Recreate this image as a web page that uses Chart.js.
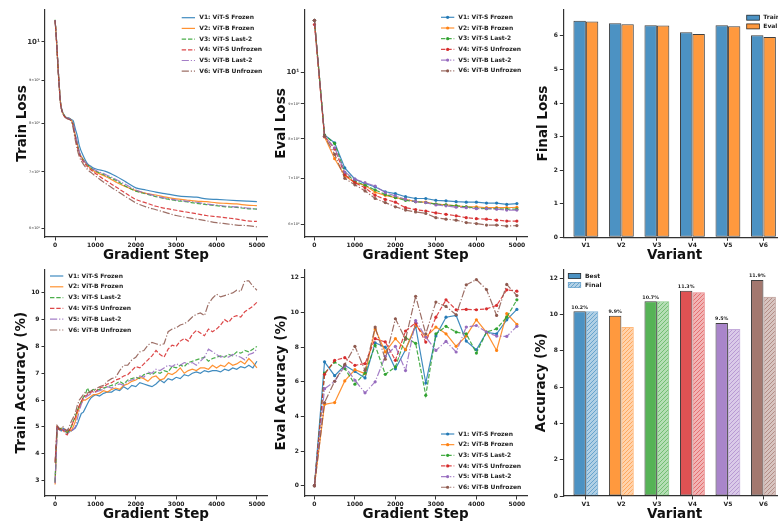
<!DOCTYPE html>
<html><head><meta charset="utf-8">
<script src="https://cdn.jsdelivr.net/npm/chart.js@4/dist/chart.umd.min.js"></script>
<style>
html,body{margin:0;padding:0;background:#fff;width:778px;height:524px;overflow:hidden;position:relative}
canvas{position:absolute}
</style></head><body>
<canvas id="c1" width="272" height="264" style="left:0;top:0"></canvas>
<canvas id="c2" width="270" height="264" style="left:262px;top:0"></canvas>
<canvas id="c3" width="270" height="264" style="left:522px;top:0"></canvas>
<canvas id="c4" width="272" height="264" style="left:0;top:260px"></canvas>
<canvas id="c5" width="270" height="264" style="left:262px;top:260px"></canvas>
<canvas id="c6" width="270" height="264" style="left:522px;top:260px"></canvas>
<script>
// ---------------- DATA ----------------
const variants = ['V1','V2','V3','V4','V5','V6'];
const seriesNames = ['V1: ViT-S Frozen','V2: ViT-B Frozen','V3: ViT-S Last-2','V4: ViT-S Unfrozen','V5: ViT-B Last-2','V6: ViT-B Unfrozen'];
const stepTicks = [0,1000,2000,3000,4000,5000];
const logTicks = [6,7,8,9,10];
const lossBarTicks = [0,1,2,3,4,5,6];
const trainAccTicks = [3,4,5,6,7,8,9,10];
const accTicks = [0,2,4,6,8,10,12];

// Train loss (log scale)
const trainLossSteps = [0,25,50,75,100,125,150,200,250,300,350,400,450,500,550,600,700,800,900,1000,1250,1500,1750,2000,2250,2500,2750,3000,3250,3500,3750,4000,4250,4500,4750,5000];
const trainLossV1 = [10.61,10.23,9.77,9.30,8.92,8.56,8.37,8.22,8.15,8.12,8.11,8.08,8.05,7.88,7.73,7.52,7.31,7.16,7.10,7.06,7.01,6.92,6.81,6.70,6.66,6.62,6.59,6.56,6.54,6.53,6.50,6.49,6.48,6.47,6.46,6.45];
const trainLossV2 = [10.60,10.20,9.74,9.28,8.90,8.55,8.36,8.21,8.14,8.11,8.10,8.06,7.97,7.73,7.56,7.38,7.24,7.13,7.05,7.00,6.91,6.81,6.72,6.65,6.60,6.57,6.53,6.50,6.48,6.46,6.45,6.43,6.42,6.41,6.39,6.38];
const trainLossV3 = [10.62,10.22,9.76,9.29,8.91,8.55,8.36,8.21,8.14,8.11,8.10,8.06,7.96,7.73,7.56,7.38,7.23,7.14,7.07,7.02,6.93,6.84,6.73,6.64,6.59,6.54,6.50,6.47,6.45,6.42,6.40,6.38,6.36,6.35,6.33,6.32];
const trainLossV4 = [10.61,10.21,9.75,9.29,8.90,8.54,8.35,8.20,8.13,8.10,8.09,8.05,7.95,7.70,7.51,7.35,7.20,7.10,7.03,6.97,6.84,6.72,6.60,6.49,6.43,6.37,6.33,6.30,6.27,6.24,6.21,6.19,6.17,6.15,6.12,6.11];
const trainLossV5 = [10.61,10.22,9.76,9.30,8.91,8.55,8.36,8.21,8.14,8.11,8.10,8.06,7.97,7.78,7.58,7.40,7.23,7.15,7.08,7.03,6.95,6.86,6.76,6.66,6.60,6.55,6.51,6.48,6.46,6.44,6.41,6.39,6.37,6.36,6.34,6.32];
const trainLossV6 = [10.60,10.20,9.73,9.27,8.89,8.54,8.35,8.20,8.13,8.10,8.08,8.04,7.88,7.64,7.44,7.30,7.15,7.05,6.98,6.92,6.78,6.66,6.54,6.43,6.36,6.31,6.26,6.21,6.18,6.15,6.12,6.09,6.07,6.05,6.04,6.02];

// Eval loss (log scale), every 250 steps
const evalSteps = [0,250,500,750,1000,1250,1500,1750,2000,2250,2500,2750,3000,3250,3500,3750,4000,4250,4500,4750,5000];
const evalLossV1 = [11.93,8.10,7.89,7.25,6.98,6.88,6.80,6.69,6.65,6.58,6.54,6.54,6.50,6.49,6.47,6.46,6.46,6.44,6.44,6.41,6.43];
const evalLossV2 = [11.93,8.05,7.48,7.06,6.90,6.84,6.68,6.61,6.56,6.52,6.47,6.46,6.42,6.40,6.38,6.36,6.36,6.34,6.34,6.34,6.35];
const evalLossV3 = [11.93,8.10,7.87,7.14,6.93,6.84,6.73,6.63,6.56,6.50,6.47,6.45,6.42,6.40,6.38,6.36,6.33,6.32,6.32,6.31,6.31];
const evalLossV4 = [11.76,8.07,7.73,7.09,6.90,6.78,6.61,6.52,6.46,6.34,6.30,6.27,6.23,6.20,6.17,6.13,6.11,6.10,6.08,6.06,6.06];
const evalLossV5 = [11.93,8.07,7.76,7.15,6.98,6.90,6.82,6.67,6.60,6.52,6.47,6.45,6.40,6.38,6.35,6.34,6.32,6.32,6.31,6.29,6.29];
const evalLossV6 = [11.93,8.07,7.59,7.00,6.85,6.71,6.54,6.45,6.36,6.29,6.25,6.22,6.13,6.10,6.08,6.03,6.01,5.98,5.98,5.96,5.97];

// Train accuracy (%)
const trainAccSteps = [0,25,50,100,150,200,250,300,350,400,450,500,550,600,650,700,750,800,850,900,950,1000,
  1100,1200,1300,1400,1500,1600,1700,1800,1900,2000,2100,2200,2300,2400,2500,2600,2700,2800,2900,3000,
  3100,3200,3300,3400,3500,3600,3700,3800,3900,4000,4100,4200,4300,4400,4500,4600,4700,4800,4900,5000];
const trainAccV1 = [2.9,4.0,5.0,4.95,4.85,4.95,4.9,4.75,4.85,4.85,4.9,4.95,5.1,5.3,5.5,5.55,5.7,5.85,6.0,6.1,6.15,6.2,
  6.15,6.25,6.3,6.3,6.4,6.35,6.5,6.4,6.55,6.5,6.65,6.6,6.55,6.5,6.6,6.75,6.65,6.8,6.75,6.85,
  6.8,6.95,6.9,7.0,7.05,7.0,7.1,7.05,7.1,7.1,7.05,7.15,7.1,7.2,7.15,7.25,7.2,7.3,7.2,7.45];
const trainAccV2 = [2.85,3.9,5.0,4.9,4.95,4.85,4.9,4.8,4.9,4.85,5.0,5.2,5.5,5.7,5.9,6.0,6.0,6.05,6.1,6.15,6.2,6.2,
  6.25,6.35,6.3,6.4,6.45,6.4,6.55,6.6,6.7,6.75,6.85,6.8,6.7,6.85,6.9,6.75,6.8,7.0,6.95,7.05,
  7.2,7.0,7.1,7.15,7.1,7.2,7.2,7.15,7.3,7.2,7.3,7.25,7.4,7.3,7.35,7.45,7.35,7.55,7.4,7.2];
const trainAccV3 = [2.95,4.0,5.0,4.9,4.95,4.9,4.85,4.75,4.9,5.0,5.2,5.4,5.6,5.8,5.95,6.1,6.2,6.45,6.3,6.35,6.4,6.35,
  6.4,6.45,6.5,6.55,6.6,6.7,6.6,6.75,6.8,6.85,6.8,6.95,7.0,6.95,7.05,7.0,7.1,7.05,7.25,7.2,
  7.3,7.25,7.4,7.45,7.5,7.55,7.6,7.45,7.55,7.6,7.65,7.6,7.7,7.65,7.8,7.75,7.85,7.8,7.9,8.0];
const trainAccV4 = [3.7,4.3,5.05,4.9,4.85,4.9,4.75,4.7,4.85,5.0,5.2,5.35,5.6,5.8,5.95,6.1,6.15,6.2,6.25,6.3,6.35,6.3,
  6.45,6.5,6.6,6.65,6.75,6.8,6.9,6.95,7.1,7.25,7.2,7.35,7.5,7.65,7.85,7.7,7.6,7.9,8.05,8.0,
  8.2,8.3,8.2,8.45,8.6,8.5,8.4,8.65,8.55,8.65,8.8,9.0,8.9,9.1,9.15,9.1,9.3,9.4,9.5,9.65];
const trainAccV5 = [2.9,3.8,4.95,4.9,4.85,4.9,4.85,4.9,4.8,4.85,4.9,5.0,5.3,5.6,5.85,6.0,6.1,6.15,6.2,6.25,6.3,6.3,
  6.35,6.4,6.5,6.45,6.55,6.6,6.55,6.7,6.75,6.8,6.9,6.85,7.05,7.0,7.15,7.1,7.2,7.3,7.25,7.35,
  7.3,7.4,7.35,7.4,7.3,7.45,7.6,7.9,7.8,7.7,7.6,7.65,7.6,7.7,7.65,7.6,7.5,7.7,7.75,7.9];
const trainAccV6 = [3.65,4.4,5.05,4.95,4.9,5.0,4.9,4.85,5.0,5.2,5.35,5.5,5.8,6.0,6.1,6.2,6.3,6.25,6.3,6.35,6.4,6.4,
  6.5,6.55,6.7,6.8,6.85,7.1,7.3,7.3,7.5,7.6,7.8,7.85,8.05,8.15,8.1,8.05,8.1,8.55,8.65,8.7,
  8.8,8.85,8.95,9.1,9.2,9.25,9.15,9.6,9.8,9.95,9.85,9.9,9.95,10.0,10.1,10.05,10.45,10.45,10.25,10.1];

// Eval accuracy (%), every 250 steps
const evalAccV1 = [0,7.15,6.35,6.95,6.6,6.22,8.25,8.0,6.75,7.85,9.2,5.93,8.65,9.73,9.83,8.35,7.85,8.85,8.77,9.58,10.18];
const evalAccV2 = [0,4.7,4.8,6.05,6.7,6.47,9.05,7.72,8.49,7.85,9.28,8.58,9.16,8.77,8.05,8.65,9.58,8.85,7.81,9.94,9.31];
const evalAccV3 = [0,6.5,7.14,6.76,5.86,6.51,8.1,6.43,6.86,8.55,8.22,5.22,8.77,9.2,8.87,8.77,7.66,8.87,9.06,9.73,10.73];
const evalAccV4 = [0,6.43,7.24,7.39,6.95,7.05,8.49,8.3,7.24,8.93,9.4,8.29,9.73,10.73,10.16,10.18,10.16,10.21,10.41,11.31,11.23];
const evalAccV5 = [0,5.6,6.03,6.9,6.09,5.36,6.0,7.47,8.05,6.65,9.54,8.58,7.81,8.33,7.72,9.16,9.25,8.87,8.64,8.62,9.2];
const evalAccV6 = [0,4.8,6.03,7.0,8.05,6.66,9.16,7.3,9.64,8.45,10.94,8.77,10.6,10.35,9.87,11.6,11.9,11.33,9.83,11.62,10.98];

const trainLoss = [trainLossV1,trainLossV2,trainLossV3,trainLossV4,trainLossV5,trainLossV6];
const evalLoss = [evalLossV1,evalLossV2,evalLossV3,evalLossV4,evalLossV5,evalLossV6];
const trainAcc = [trainAccV1,trainAccV2,trainAccV3,trainAccV4,trainAccV5,trainAccV6];
const evalAcc = [evalAccV1,evalAccV2,evalAccV3,evalAccV4,evalAccV5,evalAccV6];

// Summary values taken from the series above
const finalTrainLoss = trainLoss.map(s => s[s.length-1]);
const finalEvalLoss = evalLoss.map(s => s[s.length-1]);
const bestAcc = evalAcc.map(s => Math.max(...s));
const finalAcc = evalAcc.map(s => s[s.length-1]);

// ---------------- STYLE ----------------
const FONT = '"DejaVu Sans", "Liberation Sans", Arial, sans-serif';
Chart.defaults.font.family = FONT;
Chart.defaults.color = '#222';
Chart.defaults.animation = false;
Chart.defaults.responsive = false;
Chart.defaults.devicePixelRatio = 1;
Chart.defaults.events = [];
Chart.defaults.plugins.legend.display = false;
Chart.defaults.plugins.tooltip.enabled = false;

const tab = ['31,119,180','255,127,14','44,160,44','214,39,40','148,103,189','140,86,75'];
const dashes = [[],[],[4.4,1.9],[4.4,1.9],[7.2,1.9,1.2,1.9],[7.2,1.9,1.2,1.9]];
const AX = '#333';

function lineSets(xs, list, markers, smooth){
  return list.map((vals,i) => ({
    label: seriesNames[i],
    data: vals.map((v,k) => ({x: xs[k], y: v})),
    borderColor: `rgba(${tab[i]},0.85)`,
    backgroundColor: `rgba(${tab[i]},0.85)`,
    borderWidth: 1.2,
    borderDash: dashes[i],
    pointRadius: markers ? 1.6 : 0,
    pointBorderWidth: 0,
    pointBackgroundColor: `rgba(${tab[i]},0.95)`,
    cubicInterpolationMode: smooth ? 'monotone' : 'default',
    tension: 0,
    fill: false,
    order: 6 - i
  }));
}
function tickFont(size){ return {family: FONT, size: size, weight: 'bold'}; }
function titleCfg(text, pad){ return {display:true, text:text, color:'#111', font:{family:FONT, size:13.5, weight:'bold'}, padding:pad}; }
function baseAxis(){ return {
  grid:{display:true, drawOnChartArea:false, drawTicks:true, tickLength:3.5, color:AX, tickWidth:1, offset:false},
  border:{display:true, color:AX, width:1.2} }; }
function stepAxis(h, pb){
  return Object.assign(baseAxis(), {
    type:'linear', min:-250, max:5250,
    afterBuildTicks: s => { s.ticks = stepTicks.map(v => ({value:v})); },
    afterFit: s => { s.height = h; },
    ticks:{font:tickFont(6), color:'#222', padding:1.5, maxRotation:0, autoSkip:false, callback: v => String(v)},
    title: titleCfg('Gradient Step', {top:0, bottom:pb})
  });
}
function variantAxis(h, pb){
  return Object.assign(baseAxis(), {
    type:'linear', min:-0.635, max:5.635, offset:false,
    afterBuildTicks: s => { s.ticks = variants.map((v,i) => ({value:i})); },
    afterFit: s => { s.height = h; },
    ticks:{font:tickFont(6), color:'#222', padding:1.5, maxRotation:0, autoSkip:false, callback: v => variants[v]},
    title: titleCfg('Variant', {top:0, bottom:pb})
  });
}
function valueAxis(w, min, max, tv, text, pt){
  return Object.assign(baseAxis(), {
    type:'linear', min:min, max:max,
    afterBuildTicks: s => { s.ticks = tv.map(v => ({value:v})); },
    afterFit: s => { s.width = w; },
    ticks:{font:tickFont(6), color:'#222', padding:2, autoSkip:false, callback: v => String(v)},
    title: titleCfg(text, {top:pt, bottom:0})
  });
}
function logAxis(w, min, max, text, pt){
  return Object.assign(baseAxis(), {
    type:'logarithmic', min:min, max:max,
    afterBuildTicks: s => { s.ticks = logTicks.map(v => ({value:v})); },
    afterFit: s => { s.width = w; },
    ticks:{autoSkip:false, padding:1.5, color:'#333',
      callback: v => v === 10 ? '10¹' : v + '×10⁰',
      font: c => (c.tick && c.tick.value === 10) ? {family:FONT, size:7, weight:'bold'} : {family:FONT, size:3.5, weight:'normal'}},
    title: titleCfg(text, {top:pt, bottom:0})
  });
}
function hatch(rgb){
  const c = document.createElement('canvas'); c.width = 4; c.height = 4;
  const g = c.getContext('2d');
  g.fillStyle = `rgba(${rgb},0.35)`; g.fillRect(0,0,4,4);
  g.strokeStyle = `rgba(${rgb},0.7)`; g.lineWidth = 0.7;
  g.beginPath(); g.moveTo(-1,5); g.lineTo(5,-1); g.moveTo(-1,1); g.lineTo(1,-1); g.moveTo(3,5); g.lineTo(5,3); g.stroke();
  return g.createPattern(c, 'repeat');
}

// legend & label plugins (config kept per canvas)
const legendCfg = {};
const labelCfg = {};
Chart.register({
  id:'miniLegend',
  afterDraw(chart){
    const o = legendCfg[chart.canvas.id]; if (!o) return;
    const ctx = chart.ctx; ctx.save();
    ctx.font = 'bold 6px ' + FONT; ctx.textBaseline = 'middle';
    const items = o.items || chart.data.datasets.map(ds => ({label: ds.label, ds: ds}));
    items.forEach((it, i) => {
      const y = o.y + i * o.dy;
      if (it.ds) {
        const ds = it.ds;
        ctx.strokeStyle = ds.borderColor; ctx.lineWidth = ds.borderWidth; ctx.setLineDash(ds.borderDash || []);
        ctx.beginPath(); ctx.moveTo(o.x, y); ctx.lineTo(o.x + o.len, y); ctx.stroke(); ctx.setLineDash([]);
        if (ds.pointRadius > 0) { ctx.fillStyle = ds.pointBackgroundColor; ctx.beginPath(); ctx.arc(o.x + o.len/2, y, ds.pointRadius, 0, Math.PI*2); ctx.fill(); }
      } else {
        ctx.fillStyle = it.fill; ctx.fillRect(o.x, y - o.bh/2, o.len, o.bh);
        ctx.strokeStyle = it.stroke; ctx.lineWidth = 0.8; ctx.strokeRect(o.x, y - o.bh/2, o.len, o.bh);
      }
      ctx.fillStyle = '#222'; ctx.fillText(it.label, o.tx, y);
    });
    ctx.restore();
  },
  afterDatasetsDraw(chart){
    const o = labelCfg[chart.canvas.id]; if (!o) return;
    const ctx = chart.ctx; ctx.save();
    ctx.font = 'bold 4.8px ' + FONT; ctx.textAlign = 'center'; ctx.textBaseline = 'bottom'; ctx.fillStyle = '#222';
    chart.getDatasetMeta(0).data.forEach((el, i) => { ctx.fillText(o.values[i].toFixed(1) + '%', el.x, el.y - 1.5); });
    ctx.restore();
  }
});

// ---------------- CHARTS ----------------
// 1 Train loss
legendCfg.c1 = {x:181.7, len:13.3, tx:199.3, y:17.7, dy:10.7};
new Chart(document.getElementById('c1'), {
  type:'line',
  data:{datasets: lineSets(trainLossSteps, trainLoss, false, true)},
  options:{
    layout:{padding:{top:10, right:5, left:0, bottom:0}},
    scales:{x: stepAxis(27, 0.5), y: logAxis(45, 5.855, 10.91, 'Train Loss', 13.9)}
  }
});
// 2 Eval loss
legendCfg.c2 = {x:179, len:13.3, tx:196.3, y:17.3, dy:10.7};
new Chart(document.getElementById('c2'), {
  type:'line',
  data:{datasets: lineSets(evalSteps, evalLoss, true, false)},
  options:{
    layout:{padding:{top:10, right:5, left:0, bottom:0}},
    scales:{x: stepAxis(27, 0.5), y: logAxis(42.3, 5.744, 12.35, 'Eval Loss', 10.9)}
  }
});
// 3 Final loss bars
legendCfg.c3 = {x:224.7, len:12.7, bh:5, tx:241.3, y:17.7, dy:8.7, items:[
  {label:'Train', fill:'rgba(31,119,180,0.8)', stroke:'rgba(0,0,0,0.8)'},
  {label:'Eval', fill:'rgba(255,127,14,0.8)', stroke:'rgba(0,0,0,0.8)'}]};
new Chart(document.getElementById('c3'), {
  type:'bar',
  data:{datasets:[
    {label:'Train', data: finalTrainLoss.map((v,i)=>({x:i, y:v})), backgroundColor:'rgba(31,119,180,0.8)', borderColor:'rgba(0,0,0,0.75)', borderWidth:1, borderSkipped:false, categoryPercentage:0.7, barPercentage:1},
    {label:'Eval', data: finalEvalLoss.map((v,i)=>({x:i, y:v})), backgroundColor:'rgba(255,127,14,0.8)', borderColor:'rgba(0,0,0,0.75)', borderWidth:1, borderSkipped:false, categoryPercentage:0.7, barPercentage:1}
  ]},
  options:{
    layout:{padding:{top:10, right:6, left:0, bottom:0}},
    scales:{x: variantAxis(26.7, 0.5), y: valueAxis(41.3, 0, 6.7725, lossBarTicks, 'Final Loss', 12.9)}
  }
});
// 4 Train accuracy
legendCfg.c4 = {x:50, len:13.3, tx:68.3, y:16, dy:10.8};
new Chart(document.getElementById('c4'), {
  type:'line',
  data:{datasets: lineSets(trainAccSteps, trainAcc, false, false)},
  options:{
    layout:{padding:{top:9.3, right:5, left:0, bottom:0}},
    scales:{x: stepAxis(28, 1), y: valueAxis(45, 2.42, 10.88, trainAccTicks, 'Train Accuracy (%)', 12.9)}
  }
});
// 5 Eval accuracy
legendCfg.c5 = {x:179, len:13.3, tx:196.3, y:174, dy:10.65};
new Chart(document.getElementById('c5'), {
  type:'line',
  data:{datasets: lineSets(evalSteps, evalAcc, true, false)},
  options:{
    layout:{padding:{top:9.3, right:5, left:0, bottom:0}},
    scales:{x: stepAxis(28, 1), y: valueAxis(42.3, -0.595, 12.495, accTicks, 'Eval Accuracy (%)', 10.9)}
  }
});
// 6 Best / final accuracy bars
legendCfg.c6 = {x:46.3, len:12.4, bh:5, tx:63, y:16, dy:9, items:[
  {label:'Best', fill:'rgba(31,119,180,0.8)', stroke:'rgba(0,0,0,0.8)'},
  {label:'Final', fill:hatch(tab[0]), stroke:'rgba(31,119,180,0.6)'}]};
labelCfg.c6 = {values: bestAcc};
new Chart(document.getElementById('c6'), {
  type:'bar',
  data:{datasets:[
    {label:'Best', data: bestAcc.map((v,i)=>({x:i, y:v})), backgroundColor: tab.map(c=>`rgba(${c},0.8)`), borderColor:'rgba(0,0,0,0.75)', borderWidth:1, borderSkipped:false, categoryPercentage:0.7, barPercentage:1},
    {label:'Final', data: finalAcc.map((v,i)=>({x:i, y:v})), backgroundColor: tab.map(c=>hatch(c)), borderColor: tab.map(c=>`rgba(${c},0.55)`), borderWidth:1, borderSkipped:false, categoryPercentage:0.7, barPercentage:1}
  ]},
  options:{
    layout:{padding:{top:9.3, right:6, left:0, bottom:0}},
    scales:{x: variantAxis(28, 1), y: valueAxis(41.3, 0, 12.495, accTicks, 'Accuracy (%)', 10.9)}
  }
});
</script>
</body></html>
